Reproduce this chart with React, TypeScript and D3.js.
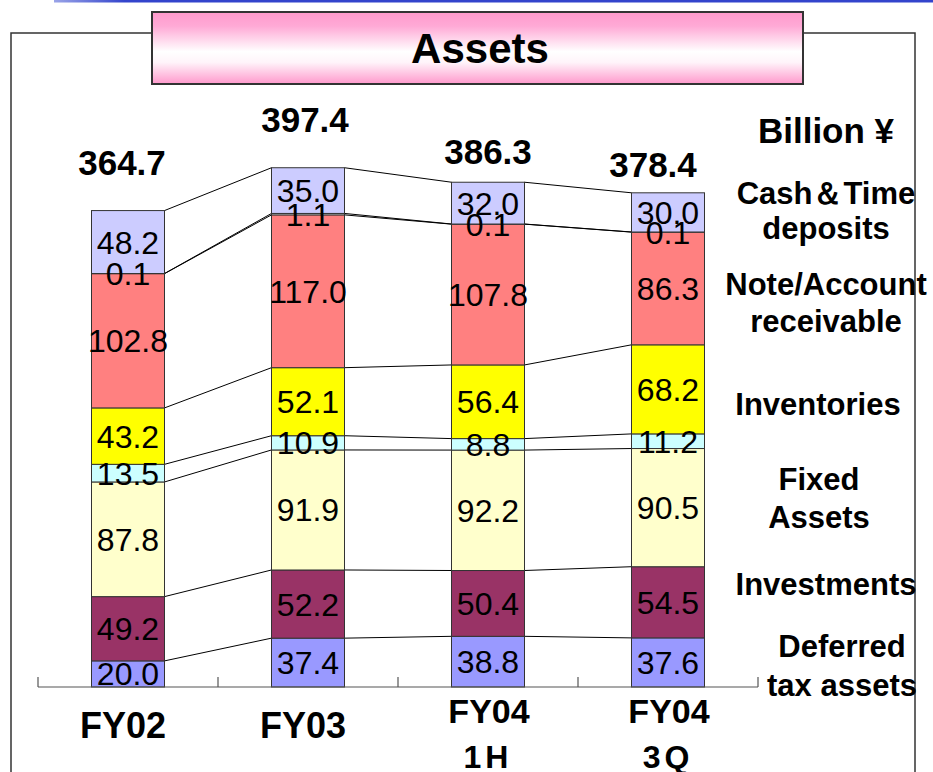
import React from 'react';
import * as d3 from 'd3';

// ---- data ----
const categories = ['FY02', 'FY03', 'FY04 1H', 'FY04 3Q'];
const categoryLines = [['FY02'], ['FY03'], ['FY04', '1H'], ['FY04', '3Q']];
const totals = [364.7, 397.4, 386.3, 378.4];

const deferredTax = [20.0, 37.4, 38.8, 37.6];
const investments = [49.2, 52.2, 50.4, 54.5];
const fixedAssets = [87.8, 91.9, 92.2, 90.5];
const otherFixed = [13.5, 10.9, 8.8, 11.2];
const inventories = [43.2, 52.1, 56.4, 68.2];
const receivables = [102.8, 117.0, 107.8, 86.3];
const otherCurrent = [0.1, 1.1, 0.1, 0.1];
const cashDeposits = [48.2, 35.0, 32.0, 30.0];

const seriesKeys = ['deferred', 'invest', 'fixed', 'otherFixed', 'inventories', 'receivables', 'otherCurrent', 'cash'];
const seriesValues = [deferredTax, investments, fixedAssets, otherFixed, inventories, receivables, otherCurrent, cashDeposits];
const seriesColors = ['#9999FF', '#993366', '#FFFFCC', '#CCFFFF', '#FFFF00', '#FF8080', '#FFFFFF', '#CCCCFF'];

const unitLabel = 'Billion ¥';
const legendLabels = [
  ['Cash＆Time', 'deposits'],
  ['Note/Account', 'receivable'],
  ['Inventories'],
  ['Fixed', 'Assets'],
  ['Investments'],
  ['Deferred', 'tax assets'],
];

// ---- layout (not data) ----
const W = 933;
const H = 772;
const FONT = '"Liberation Sans", Arial, Helvetica, sans-serif';
const legendLayout = [
  { x: 826, y: [204, 239] },
  { x: 826, y: [295, 332] },
  { x: 818, y: [415] },
  { x: 819, y: [490, 528] },
  { x: 826, y: [595] },
  { x: 842, y: [657, 696] },
];
const totalDx = [-6, -3, 0, -15];
const totalGap = [36, 36, 18, 16];

export default function App() {
  const rows = categories.map((c, i) => {
    const r: any = { cat: c };
    seriesKeys.forEach((k, j) => (r[k] = seriesValues[j][i]));
    return r;
  });
  const stacked = d3.stack<any>().keys(seriesKeys)(rows);

  const x = d3.scaleBand<string>().domain(categories).range([38, 758]).padding(0);
  const barW = 73;
  const barX = (c: string) => (x(c) as number) + (x.bandwidth() - barW) / 2;
  const y = d3.scaleLinear().domain([0, 400]).range([687, 687 - 400 * 1.306]);

  const ticks = d3.range(categories.length + 1).map((i) => 38 + i * x.step());

  return (
    <svg width={W} height={H} style={{ position: 'absolute', left: 0, top: 0, background: '#fff' }} fontFamily={FONT}>
      <defs>
        <linearGradient id="titleGrad" x1="0" y1="0" x2="0" y2="1">
          <stop offset="0" stopColor="#FF99CC" />
          <stop offset="0.2" stopColor="#FFAAD6" />
          <stop offset="0.55" stopColor="#FFFFFF" />
          <stop offset="0.7" stopColor="#FFF4FA" />
          <stop offset="1" stopColor="#FF99CC" />
        </linearGradient>
        <linearGradient id="blueLine" x1="0" y1="0" x2="1" y2="0">
          <stop offset="0" stopColor="#9AA4E8" />
          <stop offset="0.08" stopColor="#3344CC" />
          <stop offset="1" stopColor="#3344CC" />
        </linearGradient>
      </defs>
      <rect x={0} y={0} width={W} height={H} fill="#fff" />
      {/* top blue rule */}
      <rect x={54} y={0} width={W - 54} height={2.5} fill="url(#blueLine)" />

      {/* frame */}
      <path d={`M11,${H} V33 H152 M803,33 H915 V${H}`} fill="none" stroke="#333" strokeWidth={1.5} />

      {/* title box */}
      <rect x={152} y={12} width={651} height={72} fill="url(#titleGrad)" stroke="#333" strokeWidth={2} />
      <text x={480} y={63} textAnchor="middle" fontSize={42} fontWeight="bold" fill="#000">Assets</text>

      {/* connecting lines */}
      {stacked.map((s, k) =>
        categories.slice(0, -1).map((c, i) => {
          const next = categories[i + 1];
          return (
            <line
              key={`l-${k}-${i}`}
              x1={barX(c) + barW}
              x2={barX(next)}
              y1={y(s[i][1])}
              y2={y(s[i + 1][1])}
              stroke="#000"
              strokeWidth={1}
            />
          );
        })
      )}

      {/* bars */}
      {stacked.map((s, k) => (
        <g key={`s-${k}`} fill={seriesColors[k]}>
          {s.map((d, i) => (
            <rect
              key={i}
              x={barX(categories[i])}
              y={y(d[1])}
              width={barW}
              height={y(d[0]) - y(d[1])}
              stroke="#333"
              strokeWidth={1}
            />
          ))}
        </g>
      ))}

      {/* segment labels */}
      {stacked.map((s, k) =>
        s.map((d, i) => (
          <text
            key={`t-${k}-${i}`}
            x={barX(categories[i]) + barW / 2}
            y={(y(d[0]) + y(d[1])) / 2}
            dy="0.36em"
            textAnchor="middle"
            fontSize={32}
            fill="#000"
          >
            {seriesValues[k][i].toFixed(1)}
          </text>
        ))
      )}

      {/* totals */}
      {categories.map((c, i) => (
        <text
          key={`tot-${i}`}
          x={barX(c) + barW / 2 + totalDx[i]}
          y={y(stacked[stacked.length - 1][i][1]) - totalGap[i]}
          textAnchor="middle"
          fontSize={35}
          fontWeight="bold"
          fill="#000"
        >
          {totals[i].toFixed(1)}
        </text>
      ))}

      {/* axis */}
      <line x1={38} x2={758} y1={687} y2={687} stroke="#555" strokeWidth={1.2} />
      {ticks.map((t, i) => (
        <line key={`tk-${i}`} x1={t} x2={t} y1={677} y2={687} stroke="#555" strokeWidth={1.2} />
      ))}

      {/* category labels */}
      {categoryLines.map((lines, i) => {
        const cx = barX(categories[i]) + barW / 2;
        if (lines.length === 1) {
          return (
            <text key={`c-${i}`} x={cx - 5} y={738} textAnchor="middle" fontSize={36} fontWeight="bold">
              {lines[0]}
            </text>
          );
        }
        return (
          <g key={`c-${i}`}>
            <text x={cx + 1} y={723} textAnchor="middle" fontSize={34} fontWeight="bold">{lines[0]}</text>
            <text x={cx} y={768} textAnchor="middle" fontSize={32} fontWeight="bold" letterSpacing={4}>{lines[1]}</text>
          </g>
        );
      })}

      {/* unit */}
      <text x={826} y={143} textAnchor="middle" fontSize={35} fontWeight="bold">{unitLabel}</text>

      {/* series legend labels */}
      {legendLabels.map((lines, i) =>
        lines.map((ln, j) => (
          <text
            key={`lg-${i}-${j}`}
            x={legendLayout[i].x}
            y={legendLayout[i].y[j]}
            textAnchor="middle"
            fontSize={31}
            fontWeight="bold"
          >
            {ln}
          </text>
        ))
      )}
    </svg>
  );
}
